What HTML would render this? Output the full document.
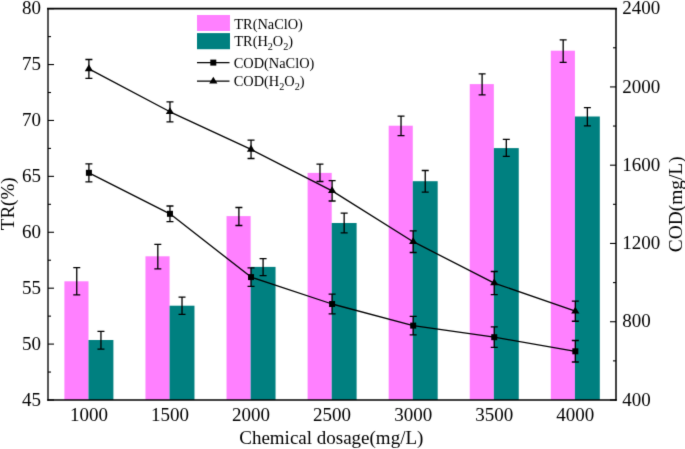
<!DOCTYPE html>
<html><head><meta charset="utf-8"><style>
html,body{margin:0;padding:0;background:#fff;}
body{width:685px;height:449px;overflow:hidden;}
svg{display:block;font-family:"Liberation Serif",serif;}
svg{will-change:transform;}
</style></head><body>
<svg width="685" height="449" viewBox="0 0 685 449">
<defs><filter id="soft" x="0" y="0" width="685" height="449" filterUnits="userSpaceOnUse" color-interpolation-filters="sRGB"><feConvolveMatrix order="3" kernelMatrix="0.01134 0.08382 0.01134 0.08382 0.61935 0.08382 0.01134 0.08382 0.01134" edgeMode="duplicate"/></filter></defs>
<g filter="url(#soft)">
<rect width="685" height="449" fill="#fff"/>
<rect x="64.4" y="281.3" width="24.1" height="118.7" fill="#ff80ff"/>
<rect x="88.5" y="340" width="24.9" height="60" fill="#008080"/>
<rect x="145.47" y="256.3" width="24.1" height="143.7" fill="#ff80ff"/>
<rect x="169.57" y="305.7" width="24.9" height="94.3" fill="#008080"/>
<rect x="226.54" y="216.1" width="24.1" height="183.9" fill="#ff80ff"/>
<rect x="250.64" y="266.9" width="24.9" height="133.1" fill="#008080"/>
<rect x="307.61" y="172.9" width="24.1" height="227.1" fill="#ff80ff"/>
<rect x="331.71" y="223" width="24.9" height="177" fill="#008080"/>
<rect x="388.68" y="125.7" width="24.1" height="274.3" fill="#ff80ff"/>
<rect x="412.78" y="181.2" width="24.9" height="218.8" fill="#008080"/>
<rect x="469.75" y="84.1" width="24.1" height="315.9" fill="#ff80ff"/>
<rect x="493.85" y="148.1" width="24.9" height="251.9" fill="#008080"/>
<rect x="550.82" y="50.7" width="24.1" height="349.3" fill="#ff80ff"/>
<rect x="574.92" y="116.5" width="24.9" height="283.5" fill="#008080"/>
<g stroke="#000" stroke-width="1.3" fill="none">
<path d="M76.75 267.6V294.8M73.25 267.6H80.25M73.25 294.8H80.25"/>
<path d="M100.95 331.3V349.1M97.45 331.3H104.45M97.45 349.1H104.45"/>
<path d="M157.82 244.4V268.9M154.32 244.4H161.32M154.32 268.9H161.32"/>
<path d="M182.02 297.2V314.3M178.52 297.2H185.52M178.52 314.3H185.52"/>
<path d="M238.89 207.5V225.5M235.39 207.5H242.39M235.39 225.5H242.39"/>
<path d="M263.09 258.6V275.7M259.59 258.6H266.59M259.59 275.7H266.59"/>
<path d="M319.96 164.2V181.5M316.46 164.2H323.46M316.46 181.5H323.46"/>
<path d="M344.16 213.2V232.9M340.66 213.2H347.66M340.66 232.9H347.66"/>
<path d="M401.03 116.1V135.7M397.53 116.1H404.53M397.53 135.7H404.53"/>
<path d="M425.23 170.5V192.1M421.73 170.5H428.73M421.73 192.1H428.73"/>
<path d="M482.1 73.8V94.8M478.6 73.8H485.6M478.6 94.8H485.6"/>
<path d="M506.3 139.4V156.4M502.8 139.4H509.8M502.8 156.4H509.8"/>
<path d="M563.17 39.8V62.3M559.67 39.8H566.67M559.67 62.3H566.67"/>
<path d="M587.37 107.6V125.9M583.87 107.6H590.87M583.87 125.9H590.87"/>
</g>
<g stroke="#000" stroke-width="1.3" fill="none" stroke-linejoin="round">
<polyline points="88.9,172.8 169.97,213.8 251.04,277.1 332.11,304 413.18,325.6 494.25,337.2 575.32,351.3"/>
<polyline points="88.9,68.9 169.97,111.8 251.04,149.4 332.11,190.85 413.18,241.7 494.25,283.1 575.32,311.2"/>
<path d="M88.9 163.8V181.8M85.4 163.8H92.4M85.4 181.8H92.4"/>
<path d="M88.9 59.5V78.3M85.4 59.5H92.4M85.4 78.3H92.4"/>
<path d="M169.97 206V221.7M166.47 206H173.47M166.47 221.7H173.47"/>
<path d="M169.97 101.8V121.8M166.47 101.8H173.47M166.47 121.8H173.47"/>
<path d="M251.04 267.9V286.4M247.54 267.9H254.54M247.54 286.4H254.54"/>
<path d="M251.04 140.2V158.5M247.54 140.2H254.54M247.54 158.5H254.54"/>
<path d="M332.11 294.1V313.9M328.61 294.1H335.61M328.61 313.9H335.61"/>
<path d="M332.11 180.7V201M328.61 180.7H335.61M328.61 201H335.61"/>
<path d="M413.18 316.3V334.8M409.68 316.3H416.68M409.68 334.8H416.68"/>
<path d="M413.18 230.9V252.5M409.68 230.9H416.68M409.68 252.5H416.68"/>
<path d="M494.25 326.9V347.4M490.75 326.9H497.75M490.75 347.4H497.75"/>
<path d="M494.25 271.5V294.6M490.75 271.5H497.75M490.75 294.6H497.75"/>
<path d="M575.32 340.5V362M571.82 340.5H578.82M571.82 362H578.82"/>
<path d="M575.32 301.1V321.25M571.82 301.1H578.82M571.82 321.25H578.82"/>
</g>
<g fill="#000">
<rect x="85.9" y="169.8" width="6" height="6"/>
<path d="M88.9 64.37L93 71.17L84.8 71.17Z"/>
<rect x="166.97" y="210.8" width="6" height="6"/>
<path d="M169.97 107.27L174.07 114.07L165.87 114.07Z"/>
<rect x="248.04" y="274.1" width="6" height="6"/>
<path d="M251.04 144.87L255.14 151.67L246.94 151.67Z"/>
<rect x="329.11" y="301" width="6" height="6"/>
<path d="M332.11 186.32L336.21 193.12L328.01 193.12Z"/>
<rect x="410.18" y="322.6" width="6" height="6"/>
<path d="M413.18 237.17L417.28 243.97L409.08 243.97Z"/>
<rect x="491.25" y="334.2" width="6" height="6"/>
<path d="M494.25 278.57L498.35 285.37L490.15 285.37Z"/>
<rect x="572.32" y="348.3" width="6" height="6"/>
<path d="M575.32 306.67L579.42 313.47L571.22 313.47Z"/>
</g>
<g stroke="#000" stroke-width="1.1" fill="none">
<path d="M48 400H54"/>
<path d="M48 372.05H51"/>
<path d="M48 344.09H54"/>
<path d="M48 316.14H51"/>
<path d="M48 288.19H54"/>
<path d="M48 260.23H51"/>
<path d="M48 232.28H54"/>
<path d="M48 204.32H51"/>
<path d="M48 176.37H54"/>
<path d="M48 148.42H51"/>
<path d="M48 120.46H54"/>
<path d="M48 92.51H51"/>
<path d="M48 64.56H54"/>
<path d="M48 36.6H51"/>
<path d="M48 8.65H54"/>
<path d="M616 400H610"/>
<path d="M616 360.87H613"/>
<path d="M616 321.73H610"/>
<path d="M616 282.59H613"/>
<path d="M616 243.46H610"/>
<path d="M616 204.32H613"/>
<path d="M616 165.19H610"/>
<path d="M616 126.05H613"/>
<path d="M616 86.92H610"/>
<path d="M616 47.78H613"/>
<path d="M616 8.65H610"/>
</g>
<g stroke="#000" stroke-linecap="square">
<path d="M48 8.65V400" stroke-width="1.35"/>
<path d="M616 8.65V400" stroke-width="1.5"/>
<path d="M48 400H616" stroke-width="1.6"/>
<path d="M48 8.65H616" stroke-width="1.8"/>
</g>
<g font-size="19" fill="#000">
<text x="41" y="405.6" text-anchor="end">45</text>
<text x="41" y="349.69" text-anchor="end">50</text>
<text x="41" y="293.79" text-anchor="end">55</text>
<text x="41" y="237.88" text-anchor="end">60</text>
<text x="41" y="181.97" text-anchor="end">65</text>
<text x="41" y="126.06" text-anchor="end">70</text>
<text x="41" y="70.16" text-anchor="end">75</text>
<text x="41" y="14.25" text-anchor="end">80</text>
<text x="622.3" y="405.6">400</text>
<text x="622.3" y="327.33">800</text>
<text x="622.3" y="249.06">1200</text>
<text x="622.3" y="170.79">1600</text>
<text x="622.3" y="92.52">2000</text>
<text x="622.3" y="14.25">2400</text>
<text x="88.9" y="421.3" text-anchor="middle">1000</text>
<text x="169.97" y="421.3" text-anchor="middle">1500</text>
<text x="251.04" y="421.3" text-anchor="middle">2000</text>
<text x="332.11" y="421.3" text-anchor="middle">2500</text>
<text x="413.18" y="421.3" text-anchor="middle">3000</text>
<text x="494.25" y="421.3" text-anchor="middle">3500</text>
<text x="575.32" y="421.3" text-anchor="middle">4000</text>
<text x="331.3" y="444" text-anchor="middle">Chemical dosage(mg/L)</text>
<text transform="translate(14.2 203.8) rotate(-90)" text-anchor="middle">TR(%)</text>
<text transform="translate(681.6 204.3) rotate(-90)" text-anchor="middle" font-size="19.4">COD(mg/L)</text>
</g>
<rect x="197" y="15" width="33" height="16" fill="#ff80ff"/>
<rect x="197" y="33.1" width="33" height="16.1" fill="#008080"/>
<path d="M197 62.6H229.5M197 81.2H229.5" stroke="#000" stroke-width="1.3"/>
<rect x="210.3" y="59.6" width="6" height="6" fill="#000"/>
<path fill="#000" d="M213.3 76.67L217.4 83.47L209.2 83.47Z"/>
<g font-size="14.35" fill="#000">
<text x="234.3" y="28.8">TR(NaClO)</text>
<text x="234.3" y="46.1">TR(H<tspan font-size="10.2" dy="4">2</tspan><tspan font-size="14.35" dy="-4">O</tspan><tspan font-size="10.2" dy="4">2</tspan><tspan font-size="14.35" dy="-4">)</tspan></text>
<text x="233.8" y="67.5">COD(NaClO)</text>
<text x="233.8" y="85.9">COD(H<tspan font-size="10.2" dy="4">2</tspan><tspan font-size="14.35" dy="-4">O</tspan><tspan font-size="10.2" dy="4">2</tspan><tspan font-size="14.35" dy="-4">)</tspan></text>
</g>
</g>
</svg>
</body></html>
